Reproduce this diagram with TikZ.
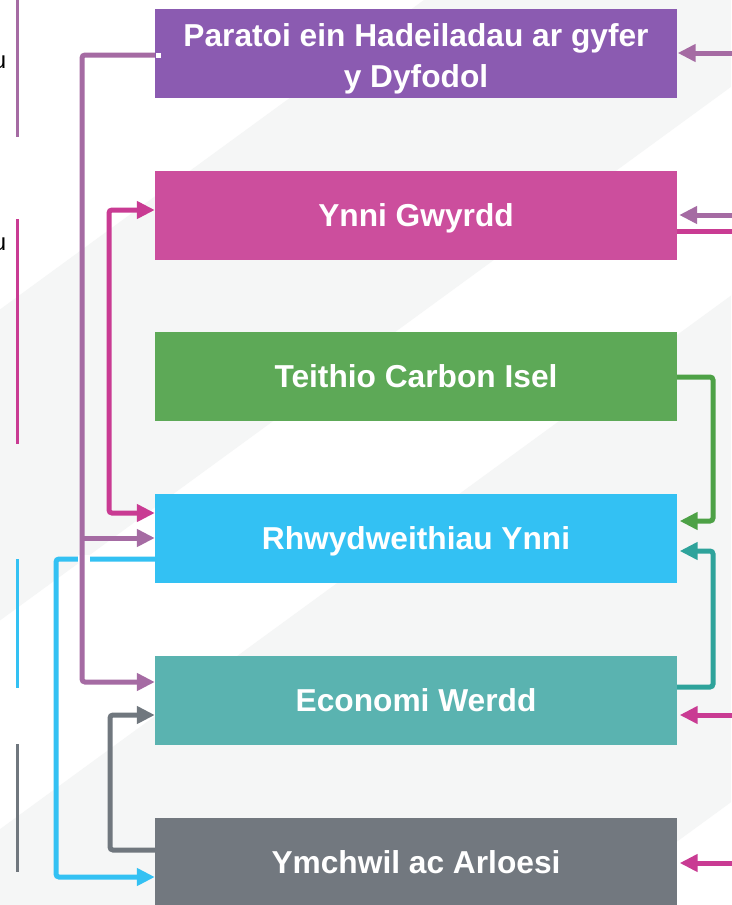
\documentclass[tikz,border=0pt]{standalone}
\usepackage{fontspec}
\setmainfont{Liberation Sans}
\usetikzlibrary{arrows.meta}
\definecolor{bgGrey}{HTML}{F5F6F6}
\definecolor{bxPurple}{HTML}{8B5BB1}
\definecolor{bxPink}{HTML}{CC4E9D}
\definecolor{bxGreen}{HTML}{5DA957}
\definecolor{bxBlue}{HTML}{33C1F3}
\definecolor{bxTeal}{HTML}{5AB3B0}
\definecolor{bxGrey}{HTML}{72787F}
\definecolor{cPurp}{HTML}{A56BA3}
\definecolor{cPink}{HTML}{C93B93}
\definecolor{cBlue}{HTML}{33C1F3}
\definecolor{cGrey}{HTML}{70777E}
\definecolor{cGreen}{HTML}{4DA146}
\definecolor{cTeal}{HTML}{2EA39B}
\begin{document}
\begin{tikzpicture}[x=1pt,y=-1pt,
  boxfont/.style={text=white, font=\bfseries\fontsize{31.7}{41.5}\selectfont},
  box/.style={minimum width=522pt, minimum height=89pt, inner sep=0pt, boxfont,
    text height=22.7pt, text depth=0pt},
  conn/.style={line width=5pt, rounded corners=3pt},
  tip/.style={-{Triangle[length=18pt,width=17pt]}},
  bothtips/.style={{Triangle[length=18pt,width=17pt]}-{Triangle[length=18pt,width=17pt]}},
  side/.style={line width=3pt},
  edgetext/.style={anchor=base east, inner sep=0pt, font=\fontsize{24}{24}\selectfont, text=black}]
\useasboundingbox (0,0) rectangle (731,905);
% background bands
\begin{scope}
\clip (0,0) rectangle (731,905);
\fill[white] (0,0) rectangle (731,905);
\fill[bgGrey] (424,0) -- (850,0) -- (-389.9,905) -- (-815.9,905) -- cycle;
\fill[bgGrey] (1136,0) -- (1830,0) -- (590.1,905) -- (-103.9,905) -- cycle;
\end{scope}
% side lines and cut-off text
\draw[side, cPurp] (17.5,0) -- (17.5,137);
\draw[side, cPink] (17.5,219) -- (17.5,444);
\draw[side, cBlue] (17.5,559) -- (17.5,688);
\draw[side, cGrey] (17.5,744) -- (17.5,872);
\node[edgetext] (u1) at (6.5,68) {u};
\node[edgetext] (u2) at (6.5,250) {u};
% boxes
\node[box, fill=bxPurple] (b1) at (416,53.5) {};
\node[boxfont, align=center, inner sep=0pt] (t1) at (416,58.8) {Paratoi ein Hadeiladau ar gyfer\\y Dyfodol};
\node[box, fill=bxPink]   (b2) at (416,215.5) {Ynni Gwyrdd};
\node[box, fill=bxGreen]  (b3) at (416,376.5) {Teithio Carbon Isel};
\node[box, fill=bxBlue]   (b4) at (416,538.5) {Rhwydweithiau Ynni};
\node[box, fill=bxTeal]   (b5) at (416,700.5) {Economi Werdd};
\node[box, fill=bxGrey]   (b6) at (416,862.5) {Ymchwil ac Arloesi};
% left connectors
\draw[conn, cBlue, tip] (b4.west |- 0,559) -- (56,559) -- (56,877) -- (b6.west |- 0,877);
\fill[white] (78,555) rectangle (90,563);
\draw[conn, cPurp, tip] (b1.west |- 0,55) -- (82,55) -- (82,682) -- (b5.west |- 0,682);
\coordinate (pj) at (82,538);
\draw[conn, cPurp, tip] (pj) -- (b4.west |- 0,538);
\fill[white] (156,52.5) rectangle (161,57.5);
\draw[conn, cPink, bothtips] (b2.west |- 0,210) -- (109,210) -- (109,513) -- (b4.west |- 0,513);
\draw[conn, cGrey, tip] (b6.west |- 0,850) -- (110,850) -- (110,715) -- (b5.west |- 0,715);
% right connectors
\coordinate (e1) at (745,53);
\coordinate (e2) at (745,215);
\coordinate (e3) at (745,231);
\coordinate (e5) at (745,715);
\coordinate (e6) at (745,863);
\coordinate (e7) at (745,877);
\draw[conn, cPurp, tip] (e1) -- ([xshift=0.5pt]b1.east |- 0,53);
\draw[conn, cPurp, tip] (e2) -- ([xshift=2pt]b2.east |- 0,215);
\draw[conn, cPink] (b2.east |- 0,231) -- (e3);
\draw[conn, cGreen, tip] (b3.east |- 0,377) -- (713,377) -- (713,521) -- ([xshift=2.5pt]b4.east |- 0,521);
\draw[conn, cTeal, tip] (b5.east |- 0,687) -- (713,687) -- (713,551) -- ([xshift=2.5pt]b4.east |- 0,551);
\draw[conn, cPink, tip] (e5) -- ([xshift=2.5pt]b5.east |- 0,715);
\draw[conn, white, tip] (e7) -- ([xshift=3pt]b6.east |- 0,877);
\draw[conn, cPink, tip] (e6) -- ([xshift=2.5pt]b6.east |- 0,863);
\end{tikzpicture}
\end{document}
